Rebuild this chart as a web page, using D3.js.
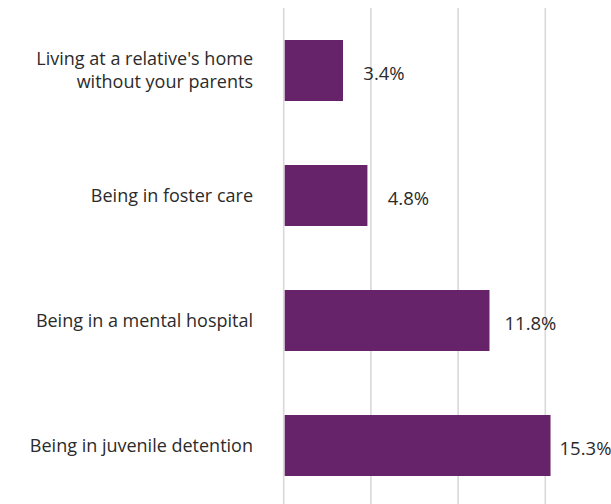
<!DOCTYPE html>
<html>
<head>
<meta charset="utf-8">
<script src="https://cdn.jsdelivr.net/npm/d3@7"></script>
<style>
  html, body { margin: 0; padding: 0; background: #fff; overflow: hidden; }
  svg { display: block; }
  text { font-family: "Open Sans", "DejaVu Sans", sans-serif; fill: #2b2b2b; }
</style>
</head>
<body>
<svg id="chart" width="611" height="504"></svg>
<script>
// Share of respondents by placement experience (percent)
const categories = [
  ["Living at a relative's home", "without your parents"],
  ["Being in foster care"],
  ["Being in a mental hospital"],
  ["Being in juvenile detention"]
];
const values = [3.4, 4.8, 11.8, 15.3];
const gridTicks = [0, 5, 10, 15];

const svg = d3.select("#chart");
const x0 = 283.7, pxPerUnit = 17.44;

const x = d3.scaleLinear()
  .domain([0, 20])
  .range([x0, x0 + 20 * pxPerUnit]);

const y = d3.scaleBand()
  .domain(d3.range(categories.length))
  .range([8, 508])
  .paddingInner(0.512)
  .paddingOuter(0.256);

// vertical gridlines
svg.append("g")
  .selectAll("line")
  .data(gridTicks)
  .join("line")
  .attr("x1", d => x(d))
  .attr("x2", d => x(d))
  .attr("y1", 8)
  .attr("y2", 504)
  .attr("stroke", "#d9d9d9")
  .attr("stroke-width", 1.6);

// bars
svg.append("g")
  .selectAll("rect")
  .data(values)
  .join("rect")
  .attr("x", x(0) + 1)
  .attr("y", (d, i) => y(i))
  .attr("width", d => x(d) - x(0) - 1)
  .attr("height", y.bandwidth())
  .attr("fill", "#66236A");

// value labels, centred a fixed distance past the bar end, kept near the right edge
const labelRight = 585.5;
svg.append("g")
  .selectAll("text")
  .data(values)
  .join("text")
  .attr("text-anchor", "middle")
  .attr("x", d => Math.min(x(d) + 41, labelRight))
  .attr("y", (d, i) => y(i) + y.bandwidth() / 2 + 3)
  .attr("dy", "0.35em")
  .attr("font-size", 18.5)
  .text(d => d.toFixed(1) + "%");

// category labels
const lh = 23;
svg.append("g")
  .selectAll("text")
  .data(categories)
  .join("text")
  .attr("text-anchor", "end")
  .attr("font-size", 18)
  .attr("y", (d, i) => y(i) + y.bandwidth() / 2 - (d.length - 1) * lh / 2)
  .each(function (d) {
    d3.select(this).selectAll("tspan")
      .data(d)
      .join("tspan")
      .attr("x", 253)
      .attr("dy", (t, j) => j === 0 ? "0.35em" : lh)
      .text(t => t);
  });
</script>
</body>
</html>
